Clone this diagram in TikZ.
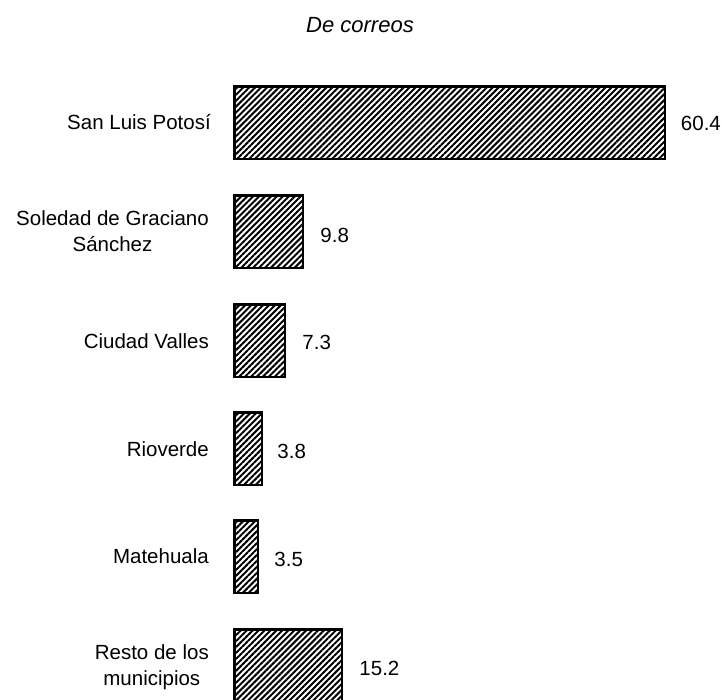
\documentclass[tikz,border=0pt]{standalone}
\usepackage{fontspec}
\setmainfont{Liberation Sans}
\usetikzlibrary{patterns.meta}
\begin{document}
\begin{tikzpicture}[x=1pt,y=-1pt,
  bar/.style={draw=black, line width=2.5pt, rectangle, inner sep=0pt, anchor=north west,
    minimum height=72.5pt,
    pattern={Lines[angle=45, distance=4.2pt, line width=2pt]}, pattern color=black},
  lab/.style={anchor=east, inner sep=0pt, align=center, font=\fontsize{20.5}{26}\selectfont},
  val/.style={anchor=west, inner sep=0pt, font=\fontsize{20.5}{26}\selectfont}]
\useasboundingbox (0,0) rectangle (723,699);
\begin{scope}
\clip (0,0) rectangle (723,699);
\node[inner sep=0pt, font=\fontsize{22}{26}\selectfont\itshape] (title) at (360,25) {De correos};

\node[bar, minimum width=430.5pt] (b1) at (233.25,85.25) {};
\node[bar, minimum width=68.5pt] (b2) at (233.25,194.25) {};
\node[bar, minimum width=50.5pt] (b3) at (233.25,303.25) {};
\node[bar, minimum width=27.5pt] (b4) at (233.25,411.25) {};
\node[bar, minimum width=23.5pt] (b5) at (233.25,519.25) {};
\node[bar, minimum width=107.5pt] (b6) at (233.25,628.25) {};

\node[lab] (l1) at (211,122) {San Luis Potosí};
\node[lab] (l2) at (209,231) {Soledad de Graciano\\Sánchez};
\node[lab] (l3) at (209,341) {Ciudad Valles};
\node[lab] (l4) at (209,449) {Rioverde};
\node[lab] (l5) at (209,556) {Matehuala};
\node[lab] (l6) at (209,667) {Resto de los\\municipios};

\node[val] (v1) at ([xshift=15pt,yshift=-1pt]b1.east) {60.4};
\node[val] (v2) at ([xshift=16pt,yshift=-4pt]b2.east) {9.8};
\node[val] (v3) at ([xshift=16pt,yshift=-2pt]b3.east) {7.3};
\node[val] (v4) at ([xshift=14pt,yshift=-3pt]b4.east) {3.8};
\node[val] (v5) at ([xshift=15pt,yshift=-3pt]b5.east) {3.5};
\node[val] (v6) at ([xshift=16pt,yshift=-3pt]b6.east) {15.2};
\end{scope}
\end{tikzpicture}
\end{document}
